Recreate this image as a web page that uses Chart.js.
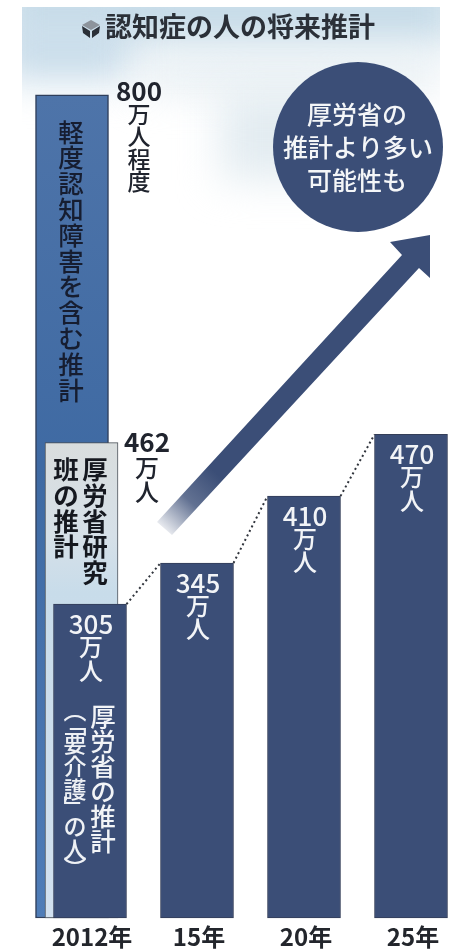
<!DOCTYPE html>
<html lang="ja">
<head>
<meta charset="utf-8">
<title>認知症の人の将来推計</title>
<script src="https://cdn.jsdelivr.net/npm/chart.js@4"></script>
<style>
html,body{margin:0;padding:0;background:#fff;overflow:hidden}
canvas{display:block}
</style>
</head>
<body>
<canvas id="chart" width="457" height="949"></canvas>
<script>
// 万人 estimates by year
const years = ['2012年', '15年', '20年', '25年'];
const careNeeded = [305, 345, 410, 470];
const studyGroup = [462, null, null, null];
const includingMild = [800, null, null, null];

const titleText = '認知症の人の将来推計';
const calloutLines = ['厚労省の', '推計より多い', '可能性も'];

const JP = '"Noto Sans CJK JP", "Noto Sans", sans-serif';
const NAVY = '#3b4e77';
const INK = '#20242e';

// Vertical text: one glyph per step; brackets take a shorter step.
const HALF = new Set(['︵', '︶', '﹁', '﹂']);
function drawVertical(ctx, text, cx, top, size, pitch, color, weight) {
  ctx.font = `${weight} ${size}px ${JP}`;
  ctx.fillStyle = color;
  ctx.textAlign = 'center';
  ctx.textBaseline = 'middle';
  let y = top;
  for (const ch of text) {
    const step = HALF.has(ch) ? pitch * 0.62 : pitch;
    ctx.fillText(ch, cx, y + step / 2);
    y += step;
  }
}

// Pale washed map behind the upper part of the graphic
const backdrop = {
  id: 'backdrop',
  beforeDraw(chart) {
    const { ctx } = chart;
    ctx.save();
    ctx.fillStyle = '#fff';
    ctx.fillRect(0, 0, 457, 949);
    ctx.save();
    ctx.beginPath();
    ctx.rect(22, 7, 418, 300);
    ctx.clip();
    ctx.filter = 'blur(20px)';
    ctx.fillStyle = '#c6dbe8';
    ctx.fillRect(0, -30, 460, 75);
    ctx.fillStyle = '#c8dcea';
    ctx.fillRect(0, 20, 130, 60);
    ctx.fillStyle = '#e3ecf1';
    ctx.fillRect(140, 60, 300, 30);
    ctx.fillRect(220, 90, 120, 90);
    ctx.restore();
    ctx.restore();
  }
};

// Callout, trend arrow, headline and the figures written on the bars
const annotations = {
  id: 'annotations',
  afterDatasetsDraw(chart) {
    const { ctx } = chart;
    const x = chart.scales.x;
    const y = chart.scales.y;
    const main = chart.getDatasetMeta(0).data;
    ctx.save();

    // dotted links between bar tops
    ctx.strokeStyle = '#30343c';
    ctx.lineWidth = 2;
    ctx.setLineDash([2, 3]);
    for (let i = 0; i < main.length - 1; i++) {
      const half = main[i].width / 2;
      ctx.beginPath();
      ctx.moveTo(main[i].x + half, main[i].y);
      ctx.lineTo(main[i + 1].x - half, main[i + 1].y);
      ctx.stroke();
    }
    ctx.setLineDash([]);

    // rising arrow, fading out at its tail
    const fade = ctx.createLinearGradient(162, 528, 215, 472);
    fade.addColorStop(0, 'rgba(59,78,119,0.1)');
    fade.addColorStop(0.5, 'rgba(59,78,119,0.8)');
    fade.addColorStop(1, NAVY);
    ctx.fillStyle = fade;
    ctx.beginPath();
    ctx.moveTo(157, 522);
    ctx.lineTo(402, 255);
    ctx.lineTo(390, 242);
    ctx.lineTo(430, 235);
    ctx.lineTo(430, 278);
    ctx.lineTo(419, 268);
    ctx.lineTo(172, 535);
    ctx.closePath();
    ctx.fill();

    // callout disc
    ctx.fillStyle = NAVY;
    ctx.beginPath();
    ctx.arc(358, 147, 85, 0, Math.PI * 2);
    ctx.fill();
    ctx.fillStyle = '#f4f6f8';
    ctx.font = `500 25px ${JP}`;
    ctx.textAlign = 'center';
    ctx.textBaseline = 'middle';
    ctx.fillText(calloutLines[0], 357, 114);
    ctx.fillText(calloutLines[1], 358, 147);
    ctx.fillText(calloutLines[2], 357, 180);

    // headline and its small cube mark
    ctx.fillStyle = '#2b3038';
    ctx.font = `700 27px ${JP}`;
    ctx.textAlign = 'left';
    ctx.fillText(titleText, 105, 27);
    ctx.beginPath();
    ctx.moveTo(91, 20); ctx.lineTo(100, 25); ctx.lineTo(91, 30); ctx.lineTo(82, 25);
    ctx.closePath();
    ctx.fillStyle = '#8d949c';
    ctx.fill();
    ctx.beginPath();
    ctx.moveTo(82, 26); ctx.lineTo(90, 31); ctx.lineTo(90, 38); ctx.lineTo(83, 33);
    ctx.closePath();
    ctx.moveTo(100, 26); ctx.lineTo(92, 31); ctx.lineTo(92, 38); ctx.lineTo(99, 33);
    ctx.closePath();
    ctx.fillStyle = '#2b3038';
    ctx.fill();

    // figures on the four main bars
    careNeeded.forEach((v, i) => {
      const cx = x.getPixelForValue(i);
      const top = y.getPixelForValue(v);
      ctx.textAlign = 'center';
      ctx.textBaseline = 'alphabetic';
      ctx.font = `500 26px ${JP}`;
      ctx.fillStyle = '#f2f4f7';
      ctx.fillText(String(v), cx + 1, top + 30);
      drawVertical(ctx, '万人', cx + 1, top + 31, 24, 23.5, '#f2f4f7', 500);
    });

    // figures beside the two taller 2012 estimates
    const topMild = y.getPixelForValue(includingMild[0]);
    const topStudy = y.getPixelForValue(studyGroup[0]);
    ctx.textAlign = 'center';
    ctx.textBaseline = 'alphabetic';
    ctx.fillStyle = INK;
    ctx.font = `700 26px ${JP}`;
    ctx.fillText(String(includingMild[0]), 139, topMild + 6);
    drawVertical(ctx, '万人程度', 139, topMild + 8, 23, 22.5, INK, 500);
    ctx.textAlign = 'center';
    ctx.textBaseline = 'alphabetic';
    ctx.fillStyle = INK;
    ctx.font = `700 26px ${JP}`;
    ctx.fillText(String(studyGroup[0]), 147, topStudy + 9);
    drawVertical(ctx, '万人', 147, topStudy + 13, 24, 24, INK, 500);

    // series names set vertically inside the bars
    drawVertical(ctx, '軽度認知障害を含む推計', 71, 119, 25.5, 25.8, '#161d30', 500);
    drawVertical(ctx, '厚労省研究', 95, 457, 25.5, 25.6, '#15181f', 700);
    drawVertical(ctx, '班の推計', 66, 457, 25.5, 25.6, '#15181f', 700);
    drawVertical(ctx, '厚労省の推計', 103, 704, 25.5, 25, '#f2f4f7', 500);
    drawVertical(ctx, '︵﹁要介護﹂の人︶', 75, 703, 23, 23, '#eef1f5', 500);
    ctx.restore();
  }
};

// The three 2012 estimates overlap, stepped sideways from the same slot
const sideStep = {
  id: 'sideStep',
  beforeDatasetDraw(chart, args) {
    chart.ctx.save();
    chart.ctx.translate(chart.data.datasets[args.index].sideStep || 0, 0);
  },
  afterDatasetDraw(chart) {
    chart.ctx.restore();
  }
};

const canvas = document.getElementById('chart');
const ctx0 = canvas.getContext('2d');

const studyFill = ctx0.createLinearGradient(0, 440, 0, 918);
studyFill.addColorStop(0, '#d9dddd');
studyFill.addColorStop(0.2, '#d6e0e8');
studyFill.addColorStop(0.32, '#c8dcea');
studyFill.addColorStop(1, '#d2e1f0');

const mildFill = ctx0.createLinearGradient(0, 95, 0, 918);
mildFill.addColorStop(0, '#4e74a9');
mildFill.addColorStop(0.45, '#3f6aa3');
mildFill.addColorStop(1, '#4f7db8');

new Chart(canvas, {
  type: 'bar',
  data: {
    labels: years,
    datasets: [
      { label: '厚労省の推計', data: careNeeded, backgroundColor: NAVY, borderColor: '#343e58', borderWidth: 1, sideStep: 0 },
      { label: '厚労省研究班の推計', data: studyGroup, backgroundColor: studyFill, borderColor: '#4a5058', borderWidth: 1, sideStep: -8.5 },
      { label: '軽度認知障害を含む推計', data: includingMild, backgroundColor: mildFill, borderColor: '#2f3f5c', borderWidth: 1.5, sideStep: -18 }
    ]
  },
  options: {
    responsive: false,
    animation: false,
    events: [],
    layout: { padding: { left: 90, right: 46, top: 12.5, bottom: 0 } },
    datasets: { bar: { grouped: false, barThickness: 73, borderSkipped: false, clip: false } },
    plugins: { legend: { display: false }, tooltip: { enabled: false }, title: { display: false } },
    scales: {
      x: {
        type: 'category',
        offset: false,
        grid: { display: false, drawTicks: false, tickLength: 0 },
        border: { display: false },
        afterFit(scale) { scale.height = 31; },
        ticks: {
          autoSkip: false,
          maxRotation: 0,
          padding: 4,
          labelOffset: 2,
          color: '#23262c',
          font: { family: JP, size: 24, weight: '700' }
        }
      },
      y: { display: false, min: 0, max: 880 }
    }
  },
  plugins: [backdrop, sideStep, annotations]
});
</script>
</body>
</html>
